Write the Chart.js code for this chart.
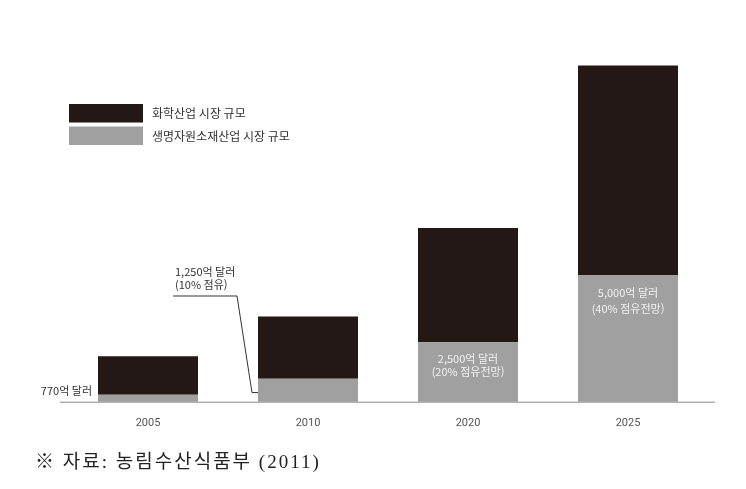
<!DOCTYPE html>
<html lang="ko">
  <head>
    <meta charset="UTF-8" />
    <title>market size</title>
    <script src="https://cdn.jsdelivr.net/npm/chart.js"></script>
    <style>
      body { margin: 0; background: #fff; }
      .wrap { position: relative; width: 746px; height: 489px; }
      .source {
        position: absolute; left: 35px; top: 446px; letter-spacing: 2px;
        font: 19px "Liberation Serif", "Noto Sans CJK KR", serif; color: #222;
      }
    </style>
  </head>
  <body>
    <div class="wrap">
      <canvas id="barChart"></canvas>
      <div class="source">※ 자료: 농림수산식품부 (2011)</div>
    </div>
    <script>
      // 값은 그림에서 읽은 높이 (억 달러 기준으로 환산)
      const years = ["2005", "2010", "2020", "2025"];
      const bioValues = [280, 870, 2230, 4720];
      const chemValues = [1430, 2310, 4240, 7780];
      const seriesNames = ["생명자원소재산업 시장 규모", "화학산업 시장 규모"];
      const barNotes = [
        ["770억 달러"],
        ["1,250억 달러", "(10% 점유)"],
        ["2,500억 달러", "(20% 점유전망)"],
        ["5,000억 달러", "(40% 점유전망)"],
      ];

      const DARK = "#231815";
      const GRAY = "#a0a0a0";
      const KFONT = '"Noto Sans CJK KR", sans-serif';

      const notesPlugin = {
        id: "notes",
        afterDraw: (chart) => {
          const { ctx, chartArea, scales } = chart;
          const y0 = scales.y.getPixelForValue(0);
          ctx.save();

          // 축선 (차트 영역보다 조금 길게)
          ctx.strokeStyle = "#b0b0b0";
          ctx.lineWidth = 1.5;
          ctx.beginPath();
          ctx.moveTo(chartArea.left - 8, y0);
          ctx.lineTo(chartArea.right + 7, y0);
          ctx.stroke();

          // 범례
          const lx = 69, ly = 104;
          const legendItems = [
            { c: DARK, t: seriesNames[1] },
            { c: GRAY, t: seriesNames[0] },
          ];
          ctx.font = "12px " + KFONT;
          ctx.textBaseline = "middle";
          ctx.textAlign = "left";
          legendItems.forEach((it, i) => {
            ctx.fillStyle = it.c;
            ctx.fillRect(lx, ly + i * 22.5, 74, 18.5);
            ctx.fillStyle = "#333";
            ctx.fillText(it.t, lx + 83, ly + i * 22.5 + 9.5);
          });

          const meta = chart.getDatasetMeta(0);
          ctx.font = "11px " + KFONT;

          // 2005
          const b0 = meta.data[0];
          ctx.fillStyle = "#333";
          ctx.textAlign = "right";
          ctx.fillText(barNotes[0][0], b0.x - b0.width / 2 - 6, y0 - 11);

          // 2010 (지시선)
          const b1 = meta.data[1];
          const left1 = b1.x - b1.width / 2;
          const midY = (b1.y + y0) / 2 + 2;
          ctx.textAlign = "left";
          ctx.fillText(barNotes[1][0], left1 - 83, 272);
          ctx.fillText(barNotes[1][1], left1 - 83, 285);
          ctx.strokeStyle = "#333";
          ctx.lineWidth = 1;
          ctx.beginPath();
          ctx.moveTo(left1 - 85, 296);
          ctx.lineTo(left1 - 21, 296);
          ctx.lineTo(left1 - 6, midY);
          ctx.lineTo(left1, midY);
          ctx.stroke();

          // 2020, 2025 (막대 안쪽)
          ctx.textAlign = "center";
          ctx.fillStyle = "#f2f2f2";
          const b2 = meta.data[2];
          ctx.fillText(barNotes[2][0], b2.x, b2.y + 17);
          ctx.fillText(barNotes[2][1], b2.x, b2.y + 30);
          const b3 = meta.data[3];
          ctx.fillText(barNotes[3][0], b3.x, b3.y + 18);
          ctx.fillText(barNotes[3][1], b3.x, b3.y + 34);

          ctx.restore();
        },
      };

      const ctx = document.getElementById("barChart").getContext("2d");
      const barChart = new Chart(ctx, {
        type: "bar",
        plugins: [notesPlugin],
        data: {
          labels: years,
          datasets: [
            { label: seriesNames[0], data: bioValues, backgroundColor: GRAY },
            { label: seriesNames[1], data: chemValues, backgroundColor: DARK },
          ],
        },
        options: {
          responsive: true,
          maintainAspectRatio: false,
          animation: false,
          layout: { padding: { left: 68, right: 38, top: 25, bottom: 52.5 } },
          datasets: { bar: { barPercentage: 1, categoryPercentage: 0.625 } },
          plugins: { legend: { display: false }, tooltip: { enabled: false } },
          scales: {
            x: {
              stacked: true,
              grid: { display: false },
              border: { display: false },
              ticks: {
                padding: 6.5,
                color: "#555",
                font: { size: 11, family: '"Liberation Sans Narrow", "Roboto", sans-serif' },
              },
            },
            y: { stacked: true, display: false, min: 0, max: 14000 },
          },
        },
      });
    </script>
  </body>
</html>
